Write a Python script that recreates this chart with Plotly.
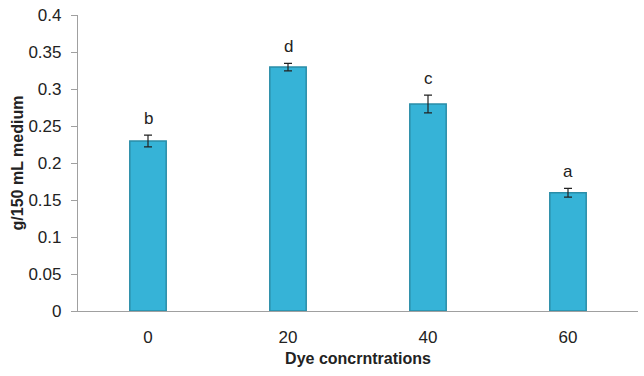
import plotly.graph_objects as go

categories = ["0", "20", "40", "60"]
values = [0.23, 0.33, 0.28, 0.16]
errors = [0.008, 0.005, 0.012, 0.006]
letters = ["b", "d", "c", "a"]

fig = go.Figure()
fig.add_trace(go.Bar(
    x=categories, y=values,
    width=0.26,
    marker=dict(color="#36B3D7", line=dict(color="#2A8DA8", width=1.5)),
    error_y=dict(type="data", array=errors, visible=True, color="#222222", thickness=1.2, width=4),
))
for i, (v, e, t) in enumerate(zip(values, errors, letters)):
    fig.add_annotation(x=i, y=v + e, text=t, showarrow=False, yshift=17,
                       font=dict(family="Liberation Sans, Arial", size=17, color="#222222"))

fig.update_layout(
    width=644, height=376,
    margin=dict(l=78, r=6, t=8, b=65),
    paper_bgcolor="white", plot_bgcolor="white",
    showlegend=False,
    font=dict(family="Liberation Sans, Arial", color="#222222"),
)
fig.update_xaxes(
    type="category", range=[-0.5, 3.5],
    showline=True, linecolor="#A0A0A0", linewidth=1.2,
    ticks="", tickfont=dict(size=17), ticklabelstandoff=10,
    title=dict(text="<b>Dye concrntrations</b>", font=dict(size=16), standoff=7),
)
fig.update_yaxes(
    range=[0, 0.4005], tickvals=[0, 0.05, 0.1, 0.15, 0.2, 0.25, 0.3, 0.35, 0.4],
    ticktext=["0", "0.05", "0.1", "0.15", "0.2", "0.25", "0.3", "0.35", "0.4"],
    ticklabeloverflow="allow", ticklabelstandoff=6,
    showline=True, linecolor="#A0A0A0", linewidth=1.2,
    ticks="outside", ticklen=6, tickcolor="#A0A0A0",
    showgrid=False, zeroline=False,
    tickfont=dict(size=17),
    title=dict(text="<b>g/150 mL medium</b>", font=dict(size=16), standoff=0),
)

fig.write_html("out.html", config={"displayModeBar": False},
               post_script="document.body.style.margin='0';document.body.style.padding='0';")
